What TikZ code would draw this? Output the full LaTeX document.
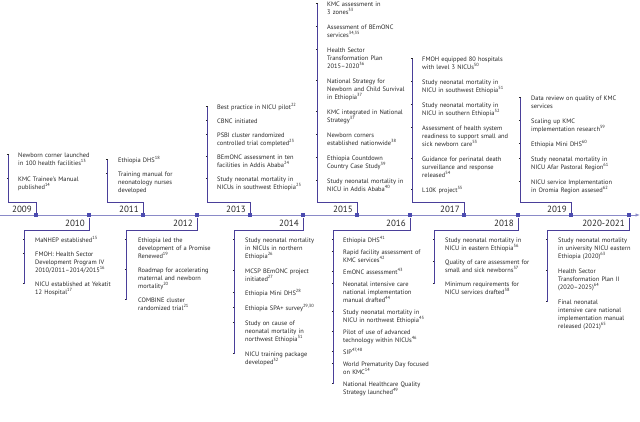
\documentclass[tikz,border=0pt]{standalone}
\usepackage{fontspec}
\setmainfont{PT Sans}
\usepackage{xcolor}
\usetikzlibrary{arrows.meta, positioning, calc}
\definecolor{axisblue}{HTML}{8A8AC8}
\definecolor{barpurple}{HTML}{4A3F9A}
\definecolor{markblue}{HTML}{4B4BB0}
\definecolor{inkgray}{HTML}{262626}

\begin{document}
\begin{tikzpicture}[
    x=1pt, y=-1pt,
    font=\fontsize{6.4}{8}\selectfont,
    item/.style={anchor=base west, align=left, text width=110pt, inner sep=0pt, text=inkgray},
    yearlab/.style={anchor=east, inner sep=0pt, font=\fontsize{9}{10}\selectfont, text=inkgray},
    yearbox/.style={fill=markblue, minimum size=4.6pt, inner sep=0pt},
    bracket/.style={draw=barpurple, line width=0.9pt},
    axisline/.style={draw=axisblue, line width=0.8pt, -{Latex[length=4.5pt, width=3.5pt]}},
    bullet/.style={draw=inkgray, line width=1pt}
]
\useasboundingbox (0,0) rectangle (640,421);

% ---- time axis ----
\coordinate (axstart) at (0,215);
\coordinate (axend) at (640,215);
\draw[axisline] (axstart) -- (axend);
\foreach \yr/\x in {2009/36, 2010/89, 2011/143, 2012/197, 2013/250, 2014/303,
                    2015/357, 2016/410, 2017/464, 2018/518, 2019/571, 2020/629} {
    \node[yearbox] (m\yr) at (\x,215) {};
}
% year labels, above and below in turn
\foreach \yr/\x/\y/\lab in {2009/36/209/2009, 2010/89/223/2010, 2011/143/209/2011,
                            2012/197/223/2012, 2013/250/209/2013, 2014/303/223/2014,
                            2015/357/209/2015, 2016/410/223/2016, 2017/464/209/2017,
                            2018/518/223/2018, 2019/571/209/2019, 2020/629/223/2020-2021} {
    \node[yearlab] (y\yr) at (\x-4,\y) {\lab};
}

% ---- 2009 (above) ----
\foreach \y/\txt [count=\k] in {157/{Newborn corner launched\\in 100 health facilities\textsuperscript{13}},
                                181/{KMC Trainee’s Manual\\published\textsuperscript{14}}} {
    \node[item] (e2009-\k) at (18,\y) {\txt};
    \draw[bullet] (6.8,\y-2.3) -- ++(2.2,0);
}
\coordinate (t2009) at (8,154.7);
\draw[bracket] (m2009) -- ++(0,-13) -| (t2009);

% ---- 2010 (below) ----
\foreach \y/\txt [count=\k] in {242/{MaNHEP established\textsuperscript{15}},
                                256/{FMOH: Health Sector\\Development Program IV\\2010/2011–2014/2015\textsuperscript{16}},
                                286/{NICU established at Yekatit\\12 Hospital\textsuperscript{17}}} {
    \node[item] (e2010-\k) at (35,\y) {\txt};
    \draw[bullet] (22.8,\y-2.3) -- ++(2.2,0);
}
\coordinate (t2010) at (24,283.7);
\draw[bracket] (m2010) -- ++(0,15) -| (t2010);

% ---- 2011 (above) ----
\foreach \y/\txt [count=\k] in {162/{Ethiopia DHS\textsuperscript{18}},
                                176/{Training manual for\\neonatology nurses\\developed}} {
    \node[item] (e2011-\k) at (118,\y) {\txt};
    \draw[bullet] (105.8,\y-2.3) -- ++(2.2,0);
}
\coordinate (t2011) at (107,159.7);
\draw[bracket] (m2011) -- ++(0,-13) -| (t2011);

% ---- 2012 (below) ----
\foreach \y/\txt [count=\k] in {242/{Ethiopia led the\\development of a Promise\\Renewed\textsuperscript{19}},
                                272/{Roadmap for accelerating\\maternal and newborn\\mortality\textsuperscript{20}},
                                302/{COMBINE cluster\\randomized trial\textsuperscript{21}}} {
    \node[item] (e2012-\k) at (138,\y) {\txt};
    \draw[bullet] (124.8,\y-2.3) -- ++(2.2,0);
}
\coordinate (t2012) at (126,299.7);
\draw[bracket] (m2012) -- ++(0,15) -| (t2012);

% ---- 2013 (above) ----
\foreach \y/\txt [count=\k] in {109/{Best practice in NICU pilot\textsuperscript{22}},
                                123/{CBNC initiated},
                                137/{PSBI cluster randomized\\controlled trial completed\textsuperscript{23}},
                                159/{BEmONC assessment in ten\\facilities in Addis Ababa\textsuperscript{24}},
                                181/{Study neonatal mortality in\\NICUs in southwest Ethiopia\textsuperscript{25}}} {
    \node[item] (e2013-\k) at (217,\y) {\txt};
    \draw[bullet] (205.8,\y-2.3) -- ++(2.2,0);
}
\coordinate (t2013) at (207,106.7);
\draw[bracket] (m2013) -- ++(0,-13) -| (t2013);

% ---- 2014 (below) ----
\foreach \y/\txt [count=\k] in {242/{Study neonatal mortality\\in NICUs in northern\\Ethiopia\textsuperscript{26}},
                                273/{MCSP BEmONC project\\initiated\textsuperscript{27}},
                                295/{Ethiopia Mini DHS\textsuperscript{28}},
                                310/{Ethiopia SPA+ survey\textsuperscript{29,30}},
                                325/{Study on cause of\\neonatal mortality in\\northwest Ethiopia\textsuperscript{31}},
                                356/{NICU training package\\developed\textsuperscript{32}}} {
    \node[item] (e2014-\k) at (245,\y) {\txt};
    \draw[bullet] (232.8,\y-2.3) -- ++(2.2,0);
}
\coordinate (t2014) at (234,353.7);
\draw[bracket] (m2014) -- ++(0,15) -| (t2014);

% ---- 2015 (above) ----
\foreach \y/\txt [count=\k] in {6/{KMC assessment in\\3 zones\textsuperscript{33}},
                                29/{Assessment of BEmONC\\services\textsuperscript{34,35}},
                                52/{Health Sector\\Transformation Plan\\2015–2020\textsuperscript{36}},
                                83/{National Strategy for\\Newborn and Child Survival\\in Ethiopia\textsuperscript{37}},
                                114/{KMC integrated in National\\Strategy\textsuperscript{37}},
                                137/{Newborn corners\\established nationwide\textsuperscript{38}},
                                160/{Ethiopia Countdown\\Country Case Study\textsuperscript{39}},
                                183/{Study neonatal mortality in\\NICU in Addis Ababa\textsuperscript{40}}} {
    \node[item] (e2015-\k) at (327,\y) {\txt};
    \draw[bullet] (315.8,\y-2.3) -- ++(2.2,0);
}
\coordinate (t2015) at (317,3.7);
\draw[bracket] (m2015) -- ++(0,-13) -| (t2015);

% ---- 2016 (below) ----
\foreach \y/\txt [count=\k] in {242/{Ethiopia DHS\textsuperscript{41}},
                                254/{Rapid facility assessment of\\KMC services\textsuperscript{42}},
                                274/{EmONC assessment\textsuperscript{43}},
                                286/{Neonatal intensive care\\national implementation\\manual drafted\textsuperscript{44}},
                                314/{Study neonatal mortality in\\NICU in northwest Ethiopia\textsuperscript{45}},
                                334/{Pilot of use of advanced\\technology within NICUs\textsuperscript{46}},
                                354/{SIP\textsuperscript{47,48}},
                                366/{World Prematurity Day focused\\on KMC\textsuperscript{14}},
                                386/{National Healthcare Quality\\Strategy launched\textsuperscript{49}}} {
    \node[item] (e2016-\k) at (343,\y) {\txt};
    \draw[bullet] (331.8,\y-2.3) -- ++(2.2,0);
}
\coordinate (t2016) at (333,383.7);
\draw[bracket] (m2016) -- ++(0,15) -| (t2016);

% ---- 2017 (above) ----
\foreach \y/\txt [count=\k] in {61/{FMOH equipped 80 hospitals\\with level 3 NICUs\textsuperscript{50}},
                                84/{Study neonatal mortality in\\NICU in southwest Ethiopia\textsuperscript{51}},
                                107/{Study neonatal mortality in\\NICU in southern Ethiopia\textsuperscript{52}},
                                130/{Assessment of health system\\readiness to support small and\\sick newborn care\textsuperscript{53}},
                                161/{Guidance for perinatal death\\surveillance and response\\released\textsuperscript{54}},
                                192/{L10K project\textsuperscript{55}}} {
    \node[item] (e2017-\k) at (422,\y) {\txt};
    \draw[bullet] (410.8,\y-2.3) -- ++(2.2,0);
}
\coordinate (t2017) at (412,58.7);
\draw[bracket] (m2017) -- ++(0,-13) -| (t2017);

% ---- 2018 (below) ----
\foreach \y/\txt [count=\k] in {242/{Study neonatal mortality in\\NICU in eastern Ethiopia\textsuperscript{56}},
                                264/{Quality of care assessment for\\small and sick newborns\textsuperscript{57}},
                                286/{Minimum requirements for\\NICU services drafted\textsuperscript{58}}} {
    \node[item] (e2018-\k) at (445,\y) {\txt};
    \draw[bullet] (432.8,\y-2.3) -- ++(2.2,0);
}
\coordinate (t2018) at (434,283.7);
\draw[bracket] (m2018) -- ++(0,15) -| (t2018);

% ---- 2019 (above) ----
\foreach \y/\txt [count=\k] in {100/{Data review on quality of KMC\\services},
                                123/{Scaling up KMC\\implementation research\textsuperscript{59}},
                                146/{Ethiopia Mini DHS\textsuperscript{60}},
                                161/{Study neonatal mortality in\\NICU Afar Pastoral Region\textsuperscript{61}},
                                184/{NICU service Implementation\\in Oromia Region assesed\textsuperscript{62}}} {
    \node[item] (e2019-\k) at (531,\y) {\txt};
    \draw[bullet] (518.8,\y-2.3) -- ++(2.2,0);
}
\coordinate (t2019) at (520,97.7);
\draw[bracket] (m2019) -- ++(0,-13) -| (t2019);

% ---- 2020-2021 (below) ----
\foreach \y/\txt [count=\k] in {242/{Study neonatal mortality\\in university NICU eastern\\Ethiopia (2020)\textsuperscript{63}},
                                273/{Health Sector\\Transformation Plan II\\(2020–2025)\textsuperscript{64}},
                                304/{Final neonatal\\intensive care national\\implementation manual\\released (2021)\textsuperscript{65}}} {
    \node[item] (e2020-\k) at (558,\y) {\txt};
    \draw[bullet] (545.8,\y-2.3) -- ++(2.2,0);
}
\coordinate (t2020) at (547,301.7);
\draw[bracket] (m2020) -- ++(0,15) -| (t2020);

\end{tikzpicture}
\end{document}
